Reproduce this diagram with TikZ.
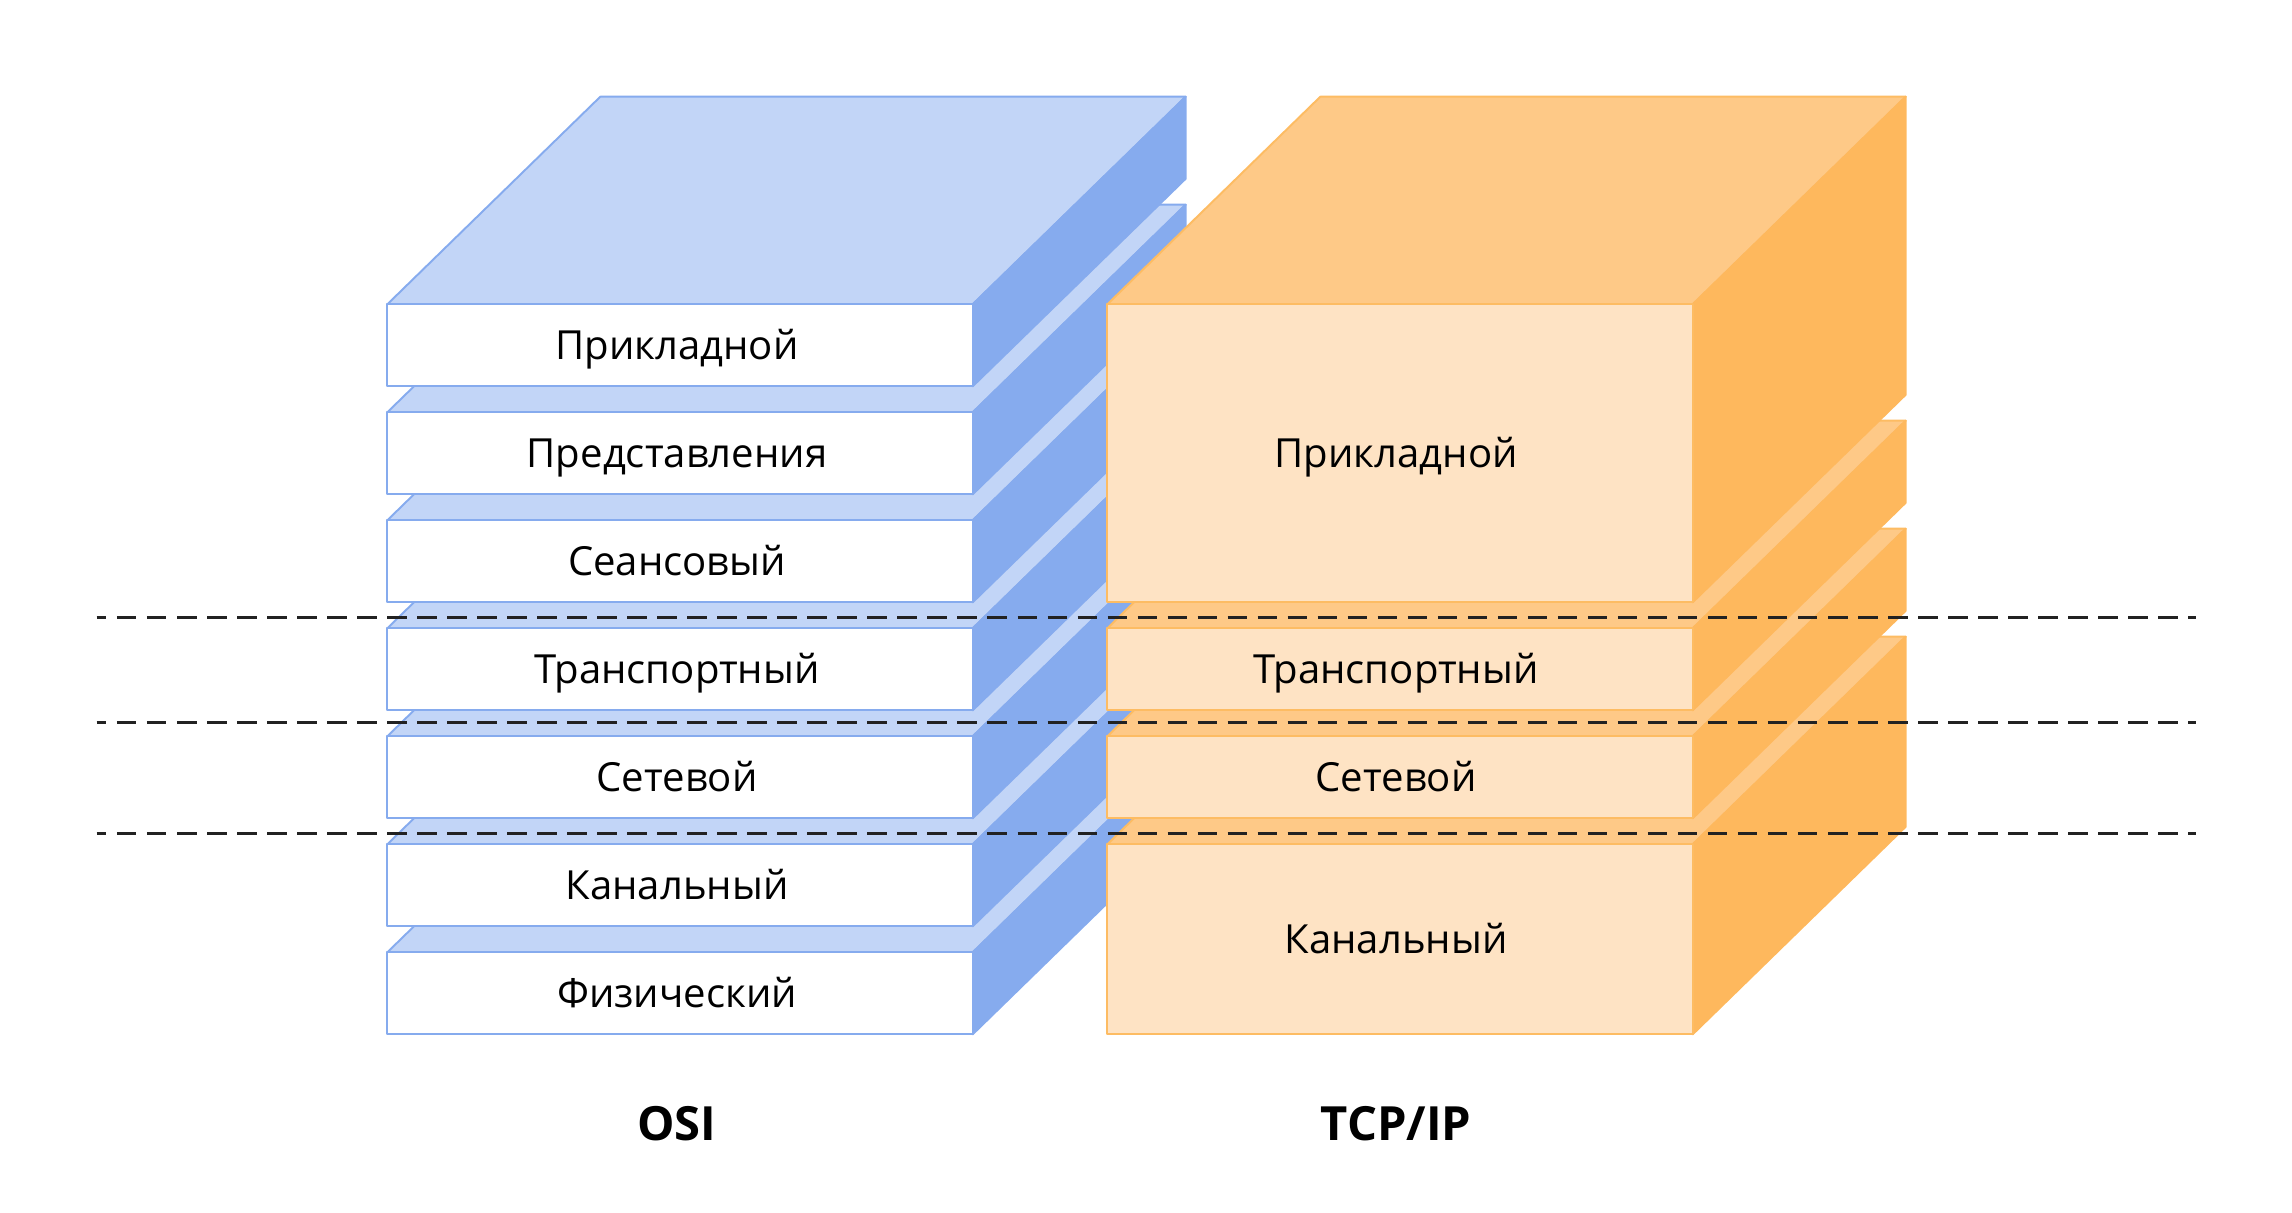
\documentclass[tikz,border=0pt]{standalone}
\usepackage{fontspec}
\setmainfont{Open Sans}
\usetikzlibrary{positioning}

\begin{document}
\begin{tikzpicture}[
	x=0.01cm, y=-0.01cm,
	line join=round,
	font=\fontsize{11.4}{14}\selectfont
	]
	% Colours
	\definecolor{osiTop}{HTML}{C2D5F7}
	\definecolor{osiSide}{HTML}{86ABEE}
	\definecolor{tcpTop}{HTML}{FEC987}
	\definecolor{tcpSide}{HTML}{FEB85D}
	\definecolor{tcpFront}{HTML}{FEE3C4}
	\definecolor{tcpEdge}{HTML}{FDBC63}
	\definecolor{sepLine}{HTML}{222222}
	
	% Styles
	\tikzset{
		osi/.style={draw=osiSide, line width=0.55pt},
		tcp/.style={draw=tcpEdge, line width=0.55pt},
		lbl/.style={text=black, anchor=base, inner sep=0pt},
		title/.style={text=black, anchor=base, font=\fontsize{13.4}{16}\selectfont\bfseries, inner sep=0pt},
		sep/.style={draw=sepLine, line width=0.85pt, dash pattern=on 0.195cm off 0.105cm, dash phase=0.0975cm}
	}
	\def\W{585.4} \def\dx{213} \def\dy{207.6}
	
	\useasboundingbox (0,0) rectangle (2292,1212);
	
	% ===== OSI stack (bottom to top) =====
	\foreach \y/\h in {952.3/82, 844.3/82, 736.3/82, 628.3/82, 520.3/82, 412.3/82, 304.3/82}{
		\path[osi, fill=osiTop] (387.3,\y) -- ++(\W,0) -- ++(\dx,-\dy) -- ++(-\W,0) -- cycle;
		\path[osi, fill=osiSide] (387.3+\W,\y) -- ++(\dx,-\dy) -- ++(0,\h) -- ++(-\dx,\dy) -- cycle;
		\path[osi, fill=white] (387.3,\y) rectangle ++(\W,\h);
	}
	
	% ===== TCP/IP stack (bottom to top) =====
	\foreach \y/\h in {844.3/190, 736.3/82, 628.3/82, 304.3/298}{
		\path[tcp, fill=tcpTop] (1107.3,\y) -- ++(\W,0) -- ++(\dx,-\dy) -- ++(-\W,0) -- cycle;
		\path[tcp, fill=tcpSide, draw=tcpSide] (1107.3+\W,\y) -- ++(\dx,-\dy) -- ++(0,\h) -- ++(-\dx,\dy) -- cycle;
		\path[tcp, fill=tcpFront] (1107.3,\y) rectangle ++(\W,\h);
	}
	
	% ===== Layer names (baseline 14.5 below the middle of each face) =====
	\node[lbl] (osiApp)  at (677,359.8) {Прикладной};
	\node[lbl] (osiPres) at (677,467.8) {Представления};
	\node[lbl] (osiSess) at (677,575.8) {Сеансовый};
	\node[lbl] (osiTran) at (677,683.8) {Транспортный};
	\node[lbl] (osiNet)  at (677,791.8) {Сетевой};
	\node[lbl] (osiLink) at (677,899.8) {Канальный};
	\node[lbl] (osiPhys) at (677,1007.8) {Физический};
	
	\node[lbl] (tcpApp)  at (1396,467.8) {Прикладной};
	\node[lbl] (tcpTran) at (1396,683.8) {Транспортный};
	\node[lbl] (tcpNet)  at (1396,791.8) {Сетевой};
	\node[lbl] (tcpLink) at (1396,953.8) {Канальный};
	
	% ===== Separators =====
	\draw[sep] (96.7,617.5) -- (2196,617.5);
	\draw[sep] (96.7,722.7) -- (2196,722.7);
	\draw[sep] (96.7,833.5) -- (2196,833.5);
	
	% model names
	\node[title] (osiName) at (677,1140) {OSI};
	\node[title] (tcpName) at (1396,1140) {TCP/IP};
	
\end{tikzpicture}
\end{document}
